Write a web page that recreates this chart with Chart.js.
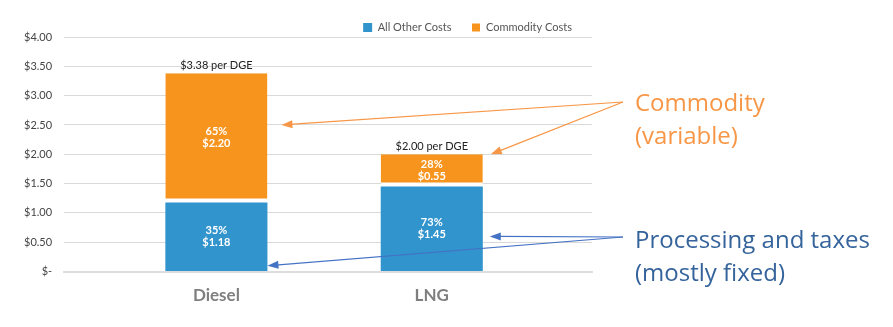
<!DOCTYPE html>
<html>
<head>
<meta charset="utf-8">
<script src="https://cdn.jsdelivr.net/npm/chart.js@4.4.0/dist/chart.umd.min.js"></script>
<style>
  html, body { margin: 0; padding: 0; background: #ffffff; }
</style>
</head>
<body>
<canvas id="costChart" width="893" height="327"></canvas>
<script>
const categories = ["Diesel", "LNG"];
const otherCosts = [1.18, 1.45];
const commodityCosts = [2.20, 0.55];
const otherShare = [35, 73];
const commodityShare = [65, 28];

const BLUE = "#3194cd";
const ORANGE = "#f7941d";

const fmtMoney = v => "$" + v.toFixed(2);

// labels inside the bars, totals above, and the callouts on the right
const costLabels = {
    id: "costLabels",
    afterDatasetsDraw(chart) {
        const ctx = chart.ctx;
        const other = chart.getDatasetMeta(0).data;
        const comm = chart.getDatasetMeta(1).data;
        ctx.save();
        ctx.textAlign = "center";
        ctx.textBaseline = "middle";
        const inBar = (bar, pct, val) => {
            const mid = (bar.y + bar.base) / 2;
            ctx.fillStyle = "#ffffff";
            ctx.font = "bold 11px Lato";
            ctx.fillText(pct + "%", bar.x, mid - 6);
            ctx.fillText(fmtMoney(val), bar.x, mid + 6);
        };
        categories.forEach((c, i) => {
            inBar(other[i], otherShare[i], otherCosts[i]);
            inBar(comm[i], commodityShare[i], commodityCosts[i]);
            ctx.fillStyle = "#222222";
            ctx.font = "11px Lato";
            ctx.fillText(fmtMoney(otherCosts[i] + commodityCosts[i]) + " per DGE", comm[i].x, comm[i].y - 8);
        });
        ctx.restore();
    },
    afterDraw(chart) {
        const ctx = chart.ctx;
        const y = chart.scales.y;
        const other = chart.getDatasetMeta(0).data;
        const comm = chart.getDatasetMeta(1).data;
        const right = b => b.x + b.width / 2;

        const arrow = (x0, y0, x1, y1, color) => {
            const ang = Math.atan2(y1 - y0, x1 - x0);
            const c = Math.cos(ang), s = Math.sin(ang);
            ctx.strokeStyle = color;
            ctx.fillStyle = color;
            ctx.lineWidth = 1.2;
            ctx.beginPath();
            ctx.moveTo(x0, y0);
            ctx.lineTo(x1 - 8 * c, y1 - 8 * s);
            ctx.stroke();
            ctx.beginPath();
            ctx.moveTo(x1, y1);
            ctx.lineTo(x1 - 11 * c + 4 * s, y1 - 11 * s - 4 * c);
            ctx.lineTo(x1 - 11 * c - 4 * s, y1 - 11 * s + 4 * c);
            ctx.closePath();
            ctx.fill();
        };

        ctx.save();
        const oc = "#f79646";
        const bc = "#4472c4";
        arrow(623, 102, right(comm[0]) + 14, y.getPixelForValue(2.5), oc);
        arrow(623, 102, right(comm[1]) + 8, comm[1].y, oc);
        arrow(623, 237, right(other[0]), y.getPixelForValue(0.1), bc);
        arrow(623, 237, right(other[1]) + 7, y.getPixelForValue(0.6), bc);

        ctx.textAlign = "left";
        ctx.textBaseline = "alphabetic";
        ctx.font = "24px 'Open Sans'";
        ctx.fillStyle = oc;
        ctx.fillText("Commodity", 635, 111);
        ctx.fillText("(variable)", 635, 144);
        ctx.fillStyle = "#35639b";
        ctx.fillText("Processing and taxes", 635, 248);
        ctx.fillText("(mostly fixed)", 635, 281);
        ctx.restore();
    }
};

new Chart(document.getElementById("costChart"), {
    type: "bar",
    data: {
        datasets: [{
            label: "All Other Costs",
            data: otherCosts.map((v, i) => ({x: i, y: v})),
            backgroundColor: BLUE,
            borderWidth: 0
        }, {
            label: "Commodity Costs",
            data: commodityCosts.map((v, i) => ({x: i, y: v})),
            backgroundColor: ORANGE,
            borderColor: "#ffffff",
            borderWidth: {bottom: 4, top: 0, left: 0, right: 0},
            borderSkipped: false
        }]
    },
    options: {
        responsive: false,
        animation: false,
        devicePixelRatio: 1,
        barPercentage: 0.474,
        categoryPercentage: 1,
        layout: {padding: {left: 12, right: 301, top: 2, bottom: 15}},
        plugins: {
            legend: {
                align: "end",
                maxHeight: 35,
                labels: {
                    boxWidth: 9,
                    boxHeight: 9,
                    padding: 20,
                    color: "#555555",
                    font: {family: "Lato", size: 11}
                }
            },
            tooltip: {enabled: false}
        },
        scales: {
            x: {
                type: "linear",
                stacked: true,
                offset: false,
                min: -0.707,
                max: 1.744,
                grid: {display: false},
                border: {color: "#dddddd", width: 2},
                afterBuildTicks: s => { s.ticks = categories.map((c, i) => ({value: i})); },
                ticks: {
                    padding: 6,
                    maxRotation: 0,
                    color: "#7f7f7f",
                    font: {family: "Lato", size: 17, weight: "bold"},
                    callback: v => categories[v]
                }
            },
            y: {
                stacked: true,
                min: 0,
                max: 4,
                border: {display: false},
                grid: {color: "#d9d9d9", borderDash: [2, 2], drawTicks: false},
                ticks: {
                    stepSize: 0.5,
                    padding: 12,
                    color: "#444444",
                    font: {family: "Lato", size: 11},
                    callback: v => v === 0 ? "$-" : fmtMoney(v)
                }
            }
        }
    },
    plugins: [costLabels]
});
</script>
</body>
</html>
